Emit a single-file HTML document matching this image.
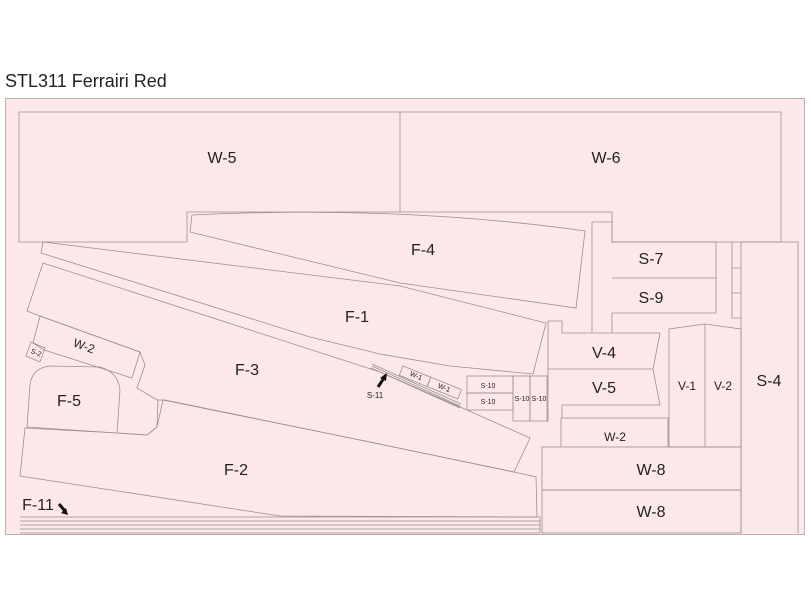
<!DOCTYPE html>
<html><head><meta charset="utf-8"><style>
html,body{margin:0;padding:0;background:#fff;}
svg{display:block;}
text{font-family:"Liberation Sans",Arial,sans-serif;fill:#222;}
</style></head><body>
<svg width="811" height="608" viewBox="0 0 811 608" xmlns="http://www.w3.org/2000/svg">
<text x="5" y="87" font-size="18">STL311 Ferrairi Red</text>
<rect x="5.5" y="98.5" width="799" height="436" fill="#fce8e9" stroke="#b9b0b0" stroke-width="1"/>
<g fill="none" stroke="#9a9090" stroke-width="0.8">
<!-- W-5 / W-6 -->
<path d="M19,112 H781 V242 H612 V212 H187 V242 H19 Z"/>
<line x1="400" y1="112" x2="400" y2="212"/>
<!-- F-4 -->
<path d="M192,215 Q400,205 585,231 L576,308 L400,283 L190,232 Z"/>
<!-- F-1 -->
<path d="M43,242 L400,286 L546,323 L533,374 L450,366 L380,354 L310,337 L41,253 Z"/>
<!-- F-3 -->
<path d="M43,263 L380,372 L467,410 L530,438 L514,472 L360,440 L165,400 L157,400 L137,388 L145,365 L140,352 L40,316 L27,311 Z"/>
<!-- W-2 -->
<path d="M40,316 L140,352 L132,378 L44,350 L33,343 Z"/>
<path d="M31,342 L45,348 L40,362 L26,356 Z"/>
<!-- F-5 -->
<path d="M27,427 L30,385 Q32,368 50,366 L100,367 Q118,372 120,390 L117,433 Z"/>
<path d="M117,433 L147,435 L157,427 L158,400"/>
<!-- F-2 -->
<path d="M25,428 L117,433 L147,435 L157,427 L163,400 L360,440 L514,472 L536,477 L537,517 L280,516 L20,476 Z"/>
<!-- strips -->
<line x1="20" y1="517" x2="540" y2="517"/>
<line x1="20" y1="521" x2="540" y2="521"/>
<line x1="20" y1="525" x2="540" y2="525"/>
<line x1="20" y1="529" x2="540" y2="529"/>
<line x1="20" y1="533" x2="540" y2="533"/>
<line x1="540" y1="517" x2="540" y2="533"/>
<!-- S-11 strip -->
<path d="M372,364 L461,404 M372,366 L460,406 M371,368 L460,408"/>
<!-- W-1 -->
<g transform="translate(403,366) rotate(22)">
<rect x="0" y="0" width="30" height="10"/>
<rect x="30" y="0" width="33" height="10"/>
</g>
<!-- S-10 -->
<rect x="467" y="376" width="46" height="17"/>
<rect x="467" y="393" width="46" height="17"/>
<rect x="513" y="376" width="17" height="45"/>
<rect x="530" y="376" width="17" height="45"/>
<!-- S-7 S-9 -->
<path d="M592,222 H612 V242 H716 V313 H612 V333 M592,222 V333"/>
<line x1="612" y1="278" x2="716" y2="278"/>
<!-- V-4 V-5 -->
<path d="M548,422 V321 H562 V333 H660 L653,369 L660,405 H562 V418"/>
<line x1="548" y1="369" x2="653" y2="369"/>
<!-- W-2 right -->
<path d="M561,418 H668 V447 M561,418 V447"/>
<!-- V-1 V-2 -->
<path d="M669,447 V329 L705,324 L741,329 V447 Z"/>
<line x1="705" y1="324" x2="705" y2="447"/>
<!-- S-4 -->
<path d="M741,242 H798 V533 M741,242 V533"/>
<path d="M732,242 V318 H741 M732,268 H741 M732,293 H741"/>
<!-- W-8 -->
<rect x="542" y="447" width="199" height="43"/>
<rect x="542" y="490" width="199" height="43"/>
</g>
<!-- arrows -->
<path d="M384,378 L378,387" stroke="#111" stroke-width="3"/>
<path d="M387,373 L380,378 L386,381 Z" fill="#111"/>
<path d="M59,504 L65,511" stroke="#111" stroke-width="3"/>
<path d="M68,515 L61,513 L66,508 Z" fill="#111"/>
<g font-size="16" text-anchor="middle">
<text x="222" y="163">W-5</text>
<text x="606" y="163">W-6</text>
<text x="423" y="255">F-4</text>
<text x="357" y="322">F-1</text>
<text x="247" y="375">F-3</text>
<text x="69" y="406">F-5</text>
<text x="236" y="475">F-2</text>
<text x="651" y="264">S-7</text>
<text x="651" y="303">S-9</text>
<text x="604" y="358">V-4</text>
<text x="604" y="393">V-5</text>
<text x="769" y="386">S-4</text>
<text x="651" y="475">W-8</text>
<text x="651" y="517">W-8</text>
<text x="38" y="510">F-11</text>
</g>
<g font-size="12" text-anchor="middle">
<text x="687" y="390">V-1</text>
<text x="723" y="390">V-2</text>
<text x="615" y="441">W-2</text>
<text x="84" y="350" transform="rotate(20 84 346)">W-2</text>
</g>
<g font-size="7" text-anchor="middle" fill="#333">
<text x="488" y="388">S-10</text>
<text x="488" y="404">S-10</text>
<text x="522" y="401">S-10</text>
<text x="539" y="401">S-10</text>
<text x="36" y="355" transform="rotate(20 36 353)">S-2</text>
<text x="416" y="378" transform="rotate(22 416 376)">W-1</text>
<text x="444" y="390" transform="rotate(22 444 388)">W-1</text>
</g>
<text x="375" y="398" font-size="8" text-anchor="middle">S-11</text>
</svg>
</body></html>
